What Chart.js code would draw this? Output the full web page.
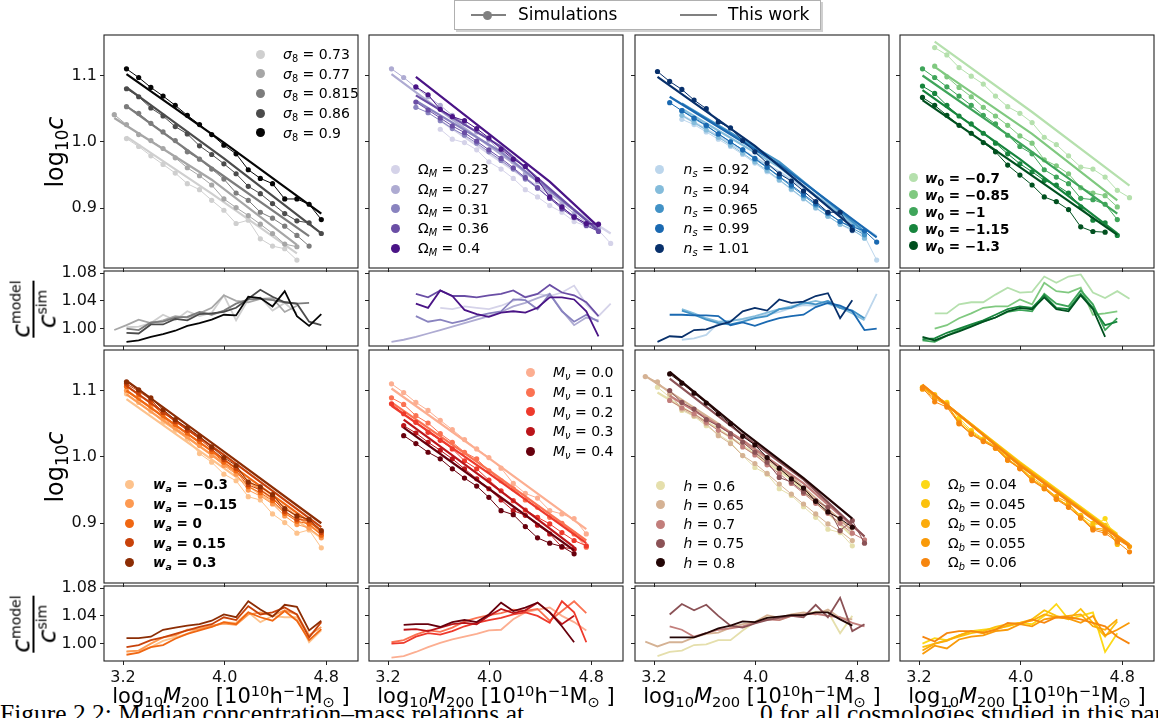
<!DOCTYPE html>
<html><head><meta charset="utf-8">
<script src="https://cdn.jsdelivr.net/npm/chart.js@4.4.1/dist/chart.umd.min.js"></script>
<style>
html,body{margin:0;padding:0;background:#fff;}
body{width:1158px;height:718px;position:relative;overflow:hidden;font-family:'DejaVu Sans',sans-serif;color:#000;}
canvas{position:absolute;}
.sb{font-size:70%;vertical-align:-0.28em;line-height:0;}
.sp{font-size:70%;vertical-align:0.5em;line-height:0;}
.legdot{position:absolute;width:9px;height:9px;border-radius:50%;margin-left:-4.5px;margin-top:-4.5px;z-index:5;}
.legtxt{position:absolute;font-size:14px;line-height:16px;margin-top:-8px;white-space:nowrap;z-index:5;}
.xl{position:absolute;font-size:21px;line-height:24px;white-space:nowrap;transform:translateX(-50%);z-index:5;}
.yl{position:absolute;font-size:24px;line-height:28px;white-space:nowrap;transform:translate(-50%,-50%) rotate(-90deg);z-index:5;}
.frac{position:absolute;transform:translate(-50%,-50%) rotate(-90deg);text-align:center;font-size:25px;line-height:19px;z-index:5;}
.frac .bar{height:2px;background:#000;margin:2px 0 3px 0;}
.frac .s2{font-size:14px;vertical-align:9px;line-height:0;}
.cap{position:absolute;font-family:'Liberation Serif',serif;font-size:25.5px;line-height:25.5px;white-space:nowrap;}
</style></head><body>
<script>
// ---------------- data ----------------
const massBins = [3.131, 3.227, 3.323, 3.419, 3.515, 3.611, 3.706, 3.802, 3.898, 3.994, 4.090, 4.186, 4.281, 4.377, 4.473, 4.569, 4.665, 4.761, 4.857, 4.953];
const xTicks = [3.2, 4.0, 4.8];
const mainYTicks = [0.9, 1.0, 1.1];
const ratioYTicks = [1.00, 1.04, 1.08];
const xRange = [3.05, 5.05];
const mainYRange = [0.81, 1.161];
const ratioYRange = [0.975, 1.083];

// sigma_8
const s8Labels = ['0.73', '0.77', '0.815', '0.86', '0.9'];
const s8Colors = ['#cfcfcf', '#a6a6a6', '#7c7c7c', '#4b4b4b', '#050505'];
const s8Start = [1, 0, 1, 1, 1];
const s8Sim = [
  [1.005, 0.993, 0.979, 0.966, 0.953, 0.937, 0.928, 0.912, 0.897, 0.877, 0.882, 0.854, 0.843, 0.839, 0.822],
  [1.041, 1.026, 1.011, 1.002, 0.990, 0.976, 0.961, 0.949, 0.935, 0.914, 0.901, 0.889, 0.876, 0.862, 0.846, 0.842],
  [1.053, 1.043, 1.028, 1.015, 1.002, 0.985, 0.974, 0.959, 0.944, 0.923, 0.912, 0.894, 0.885, 0.873, 0.859, 0.843],
  [1.080, 1.068, 1.051, 1.039, 1.023, 1.012, 0.994, 0.981, 0.967, 0.952, 0.933, 0.922, 0.907, 0.892, 0.881, 0.878, 0.862],
  [1.110, 1.097, 1.082, 1.069, 1.055, 1.040, 1.026, 1.011, 0.995, 0.982, 0.958, 0.945, 0.937, 0.914, 0.914, 0.906, 0.883]];
const s8ModelIdx = [[1, 8, 15], [0, 8, 15], [1, 8, 16], [1, 9, 17], [1, 9, 17]];
const s8ModelVal = [[1.008, 0.922, 0.832], [1.036, 0.943, 0.845], [1.054, 0.961, 0.858], [1.082, 0.975, 0.862], [1.102, 0.999, 0.892]];
const s8Ratio = [
  [1.002, 1.003, 1.008, 1.020, 1.012, 1.025, 1.018, 1.023, 1.048, 1.012, 1.042, 1.045, 1.026, 1.037, 1.022],
  [0.998, 1.005, 1.013, 1.008, 1.012, 1.018, 1.016, 1.022, 1.030, 1.048, 1.040, 1.038, 1.043, 1.044, 1.024, 1.033],
  [1.000, 0.998, 1.009, 1.010, 1.016, 1.017, 1.024, 1.020, 1.026, 1.036, 1.042, 1.043, 1.041, 1.038, 1.036, 1.037],
  [0.994, 0.993, 1.006, 1.006, 1.014, 1.012, 1.021, 1.022, 1.024, 1.030, 1.043, 1.056, 1.046, 1.038, 1.036, 1.010, 1.005],
  [0.981, 0.983, 0.988, 0.992, 0.997, 1.004, 1.008, 1.013, 1.020, 1.019, 1.046, 1.044, 1.032, 1.054, 1.018, 1.004, 1.021]];

// Omega_M
const omLabels = ['0.23', '0.27', '0.31', '0.36', '0.4'];
const omColors = ['#d5d3e9', '#aeabd2', '#8983bf', '#6a4ea5', '#4a1486'];
const omStart = [5, 1, 3, 3, 3];
const omSim = [
  [1.019, 1.004, 0.999, 0.988, 0.970, 0.959, 0.945, 0.928, 0.917, 0.904, 0.894, 0.880, 0.873, 0.867, 0.847],
  [1.110, 1.097, 1.082, 1.068, 1.055, 1.040, 1.028, 1.015, 1.003, 0.985, 0.970, 0.952, 0.940, 0.922, 0.907, 0.892, 0.878, 0.869],
  [1.052, 1.044, 1.032, 1.020, 1.010, 0.998, 0.985, 0.972, 0.959, 0.944, 0.930, 0.915, 0.901, 0.888, 0.876, 0.866],
  [1.060, 1.048, 1.036, 1.024, 1.014, 1.001, 0.988, 0.975, 0.961, 0.946, 0.931, 0.915, 0.899, 0.886, 0.874, 0.865],
  [1.083, 1.071, 1.049, 1.038, 1.032, 1.020, 1.006, 0.989, 0.974, 0.963, 0.943, 0.917, 0.902, 0.887, 0.877, 0.876]];
const omModelIdx = [[5, 12, 19], [1, 6, 12, 18], [3, 10, 18], [3, 10, 18], [3, 9, 14, 18]];
const omModelVal = [[1.032, 0.945, 0.862], [1.102, 1.034, 0.955, 0.868], [1.062, 0.985, 0.868], [1.070, 0.993, 0.866], [1.098, 1.012, 0.940, 0.872]];
const omRatio = [
  [1.030, 1.028, 1.032, 1.030, 1.028, 1.033, 1.040, 1.046, 1.050, 1.047, 1.052, 1.062, 1.035, 1.018, 1.036],
  [0.981, 0.984, 0.988, 0.993, 0.998, 1.003, 1.008, 1.013, 1.018, 1.024, 1.032, 1.037, 1.044, 1.050, 1.026, 1.005, 1.016, 1.012],
  [1.018, 1.010, 1.013, 1.008, 1.012, 1.018, 1.022, 1.025, 1.042, 1.041, 1.028, 1.050, 1.025, 1.010, 1.020, 1.010],
  [1.050, 1.045, 1.055, 1.047, 1.047, 1.045, 1.048, 1.050, 1.055, 1.045, 1.050, 1.063, 1.052, 1.048, 1.038, 1.018],
  [1.036, 1.030, 1.055, 1.047, 1.027, 1.021, 1.017, 1.023, 1.025, 1.023, 1.030, 1.045, 1.045, 1.042, 1.025, 0.989]];

// n_s
const nsLabels = ['0.92', '0.94', '0.965', '0.99', '1.01'];
const nsColors = ['#bcd6ec', '#84bcdb', '#4292c6', '#1a69b1', '#08306b'];
const nsStart = [3, 3, 3, 2, 1];
const nsSim = [
  [1.034, 1.026, 1.015, 1.004, 0.993, 0.981, 0.968, 0.955, 0.942, 0.928, 0.914, 0.900, 0.888, 0.876, 0.866, 0.858, 0.822],
  [1.040, 1.029, 1.018, 1.007, 0.995, 0.983, 0.970, 0.957, 0.943, 0.929, 0.915, 0.901, 0.888, 0.876, 0.868, 0.855],
  [1.047, 1.035, 1.024, 1.012, 1.000, 0.988, 0.974, 0.961, 0.947, 0.933, 0.919, 0.905, 0.892, 0.880, 0.870, 0.860],
  [1.059, 1.047, 1.036, 1.025, 1.012, 1.000, 0.988, 0.975, 0.962, 0.948, 0.935, 0.921, 0.907, 0.893, 0.880, 0.872, 0.866, 0.849],
  [1.106, 1.091, 1.079, 1.063, 1.050, 1.030, 1.021, 1.002, 0.985, 0.968, 0.952, 0.941, 0.926, 0.910, 0.894, 0.894, 0.867]];
const nsModelIdx = [[3, 11, 19], [3, 11, 18], [3, 11, 18], [2, 11, 19], [1, 9, 17]];
const nsModelVal = [[1.040, 0.955, 0.858], [1.050, 0.962, 0.862], [1.058, 0.970, 0.865], [1.068, 0.966, 0.856], [1.098, 0.994, 0.872]];
const nsRatio = [
  [0.984, 0.986, 0.991, 1.008, 1.012, 1.013, 1.016, 1.020, 1.024, 1.030, 1.034, 1.033, 1.040, 1.030, 1.026, 1.014, 1.050],
  [1.028, 1.022, 1.015, 1.010, 1.011, 1.014, 1.018, 1.023, 1.028, 1.032, 1.036, 1.040, 1.036, 1.030, 1.022, 1.012],
  [1.026, 1.020, 1.013, 1.008, 1.006, 1.010, 1.015, 1.018, 1.028, 1.030, 1.038, 1.035, 1.040, 1.030, 1.026, 1.015],
  [1.020, 1.020, 1.019, 1.019, 1.018, 1.005, 1.009, 1.004, 1.010, 1.015, 1.018, 1.020, 1.031, 1.037, 1.033, 1.025, 0.998, 1.000],
  [0.981, 0.989, 0.988, 0.998, 0.999, 1.005, 1.010, 1.025, 1.030, 1.026, 1.042, 1.037, 1.039, 1.047, 1.051, 1.015, 1.041]];

// w_0
const w0Labels = ['\u22120.7', '\u22120.85', '\u22121', '\u22121.15', '\u22121.3'];
const w0Colors = ['#b5e0ad', '#80c980', '#3fa55a', '#17853d', '#00501f'];
const w0Start = [2, 2, 1, 1, 1];
const w0Sim = [
  [1.142, 1.131, 1.112, 1.099, 1.087, 1.069, 1.053, 1.043, 1.029, 1.007, 0.996, 0.979, 0.962, 0.959, 0.947, 0.927, 0.916],
  [1.114, 1.098, 1.082, 1.068, 1.052, 1.039, 1.025, 1.009, 0.998, 0.973, 0.964, 0.952, 0.931, 0.923, 0.919, 0.902],
  [1.110, 1.097, 1.083, 1.069, 1.055, 1.040, 1.027, 1.010, 0.993, 0.982, 0.958, 0.947, 0.937, 0.915, 0.913, 0.906, 0.883],
  [1.084, 1.073, 1.055, 1.039, 1.027, 1.013, 0.998, 0.982, 0.967, 0.955, 0.942, 0.935, 0.923, 0.902, 0.882, 0.878, 0.859],
  [1.067, 1.055, 1.040, 1.025, 1.013, 0.999, 0.985, 0.965, 0.950, 0.935, 0.917, 0.910, 0.898, 0.872, 0.865, 0.864]];
const w0ModelIdx = [[2, 10, 18], [2, 10, 17], [1, 9, 17], [1, 9, 17], [1, 9, 17]];
const w0ModelVal = [[1.151, 1.045, 0.934], [1.113, 1.012, 0.912], [1.100, 0.998, 0.892], [1.078, 0.974, 0.862], [1.063, 0.962, 0.860]];
const w0Ratio = [
  [1.022, 1.022, 1.035, 1.038, 1.038, 1.049, 1.059, 1.052, 1.053, 1.075, 1.066, 1.075, 1.078, 1.052, 1.044, 1.054, 1.043],
  [1.000, 1.005, 1.015, 1.022, 1.030, 1.032, 1.032, 1.042, 1.035, 1.066, 1.054, 1.052, 1.059, 1.020, 1.022, 1.025],
  [0.983, 0.981, 0.990, 0.998, 1.004, 1.010, 1.016, 1.024, 1.027, 1.025, 1.050, 1.036, 1.032, 1.055, 1.035, 0.998, 1.015],
  [0.985, 0.986, 0.994, 1.000, 1.006, 1.012, 1.020, 1.028, 1.032, 1.030, 1.048, 1.030, 1.028, 1.050, 1.030, 1.005, 1.010],
  [0.988, 0.983, 0.990, 0.996, 1.003, 1.010, 1.016, 1.025, 1.030, 1.028, 1.045, 1.028, 1.025, 1.048, 1.028, 0.988]];

// w_a
const waLabels = ['\u22120.3', '\u22120.15', '0', '0.15', '0.3'];
const waColors = ['#fdc28c', '#fd9a52', '#f06712', '#c8420a', '#8c2d04'];
const waStart = [1, 1, 1, 1, 1];
const waSim = [
  [1.095, 1.082, 1.069, 1.052, 1.040, 1.027, 1.005, 0.992, 0.974, 0.964, 0.940, 0.935, 0.914, 0.901, 0.885, 0.890, 0.863],
  [1.100, 1.088, 1.075, 1.058, 1.044, 1.031, 1.017, 1.002, 0.987, 0.974, 0.950, 0.941, 0.929, 0.911, 0.898, 0.893, 0.878],
  [1.106, 1.094, 1.081, 1.063, 1.049, 1.036, 1.023, 1.008, 0.992, 0.979, 0.955, 0.946, 0.934, 0.915, 0.903, 0.899, 0.882],
  [1.110, 1.099, 1.086, 1.067, 1.053, 1.040, 1.027, 1.012, 0.996, 0.983, 0.958, 0.950, 0.938, 0.918, 0.906, 0.904, 0.886],
  [1.113, 1.101, 1.089, 1.071, 1.056, 1.044, 1.031, 1.015, 0.999, 0.987, 0.962, 0.955, 0.943, 0.922, 0.911, 0.906, 0.889]];
const waModelIdx = [[1, 9, 17], [1, 9, 17], [1, 9, 17], [1, 9, 17], [1, 9, 17]];
const waModelVal = [[1.087, 0.983, 0.878], [1.094, 0.990, 0.884], [1.100, 0.996, 0.889], [1.107, 1.003, 0.894], [1.115, 1.008, 0.900]];
const waRatio = [
  [0.988, 0.990, 0.995, 1.004, 1.009, 1.014, 1.023, 1.024, 1.031, 1.030, 1.045, 1.031, 1.040, 1.038, 1.038, 1.002, 1.019],
  [0.989, 0.990, 1.000, 1.009, 1.012, 1.020, 1.021, 1.026, 1.029, 1.027, 1.042, 1.045, 1.040, 1.048, 1.042, 1.012, 1.024],
  [0.984, 0.987, 0.995, 0.998, 1.007, 1.014, 1.019, 1.024, 1.031, 1.028, 1.045, 1.038, 1.033, 1.047, 1.033, 1.005, 1.021],
  [0.995, 0.998, 1.005, 1.009, 1.014, 1.019, 1.024, 1.028, 1.038, 1.034, 1.054, 1.042, 1.045, 1.052, 1.042, 1.009, 1.031],
  [1.008, 1.008, 1.010, 1.020, 1.023, 1.026, 1.028, 1.033, 1.042, 1.038, 1.061, 1.049, 1.039, 1.056, 1.053, 1.019, 1.033]];

// M_nu
const mnLabels = ['0.0', '0.1', '0.2', '0.3', '0.4'];
const mnColors = ['#fcae91', '#fb7252', '#ee3a2c', '#bb151a', '#67000d'];
const mnStart = [1, 1, 1, 2, 2];
const mnSim = [
  [1.110, 1.097, 1.082, 1.070, 1.055, 1.041, 1.026, 1.012, 0.999, 0.983, 0.960, 0.945, 0.938, 0.919, 0.914, 0.907, 0.884],
  [1.089, 1.079, 1.062, 1.051, 1.035, 1.022, 1.007, 0.997, 0.979, 0.964, 0.952, 0.935, 0.924, 0.909, 0.900, 0.884, 0.864],
  [1.080, 1.065, 1.052, 1.037, 1.025, 1.012, 0.994, 0.982, 0.965, 0.949, 0.934, 0.920, 0.909, 0.899, 0.886, 0.874, 0.866],
  [1.047, 1.036, 1.022, 1.010, 0.997, 0.982, 0.967, 0.952, 0.935, 0.919, 0.912, 0.897, 0.884, 0.864, 0.861],
  [1.032, 1.020, 1.007, 0.997, 0.982, 0.968, 0.956, 0.939, 0.919, 0.913, 0.895, 0.878, 0.870, 0.865, 0.854]];
const mnModelIdx = [[1, 9, 17], [1, 9, 17], [1, 9, 17], [2, 9, 16], [2, 9, 16]];
const mnModelVal = [[1.103, 0.998, 0.891], [1.082, 0.980, 0.874], [1.077, 0.975, 0.870], [1.056, 0.962, 0.864], [1.044, 0.952, 0.859]];
const mnRatio = [
  [0.980, 0.982, 0.988, 0.995, 1.001, 1.006, 1.010, 1.014, 1.019, 1.020, 1.035, 1.045, 1.049, 1.052, 1.040, 1.031, 1.019],
  [1.002, 1.005, 1.013, 1.019, 1.017, 1.023, 1.032, 1.037, 1.041, 1.044, 1.049, 1.047, 1.050, 1.033, 1.047, 1.061, 1.044],
  [1.000, 1.001, 1.010, 1.015, 1.013, 1.018, 1.025, 1.030, 1.034, 1.037, 1.042, 1.045, 1.040, 1.030, 1.061, 1.045, 1.002],
  [1.020, 1.021, 1.018, 1.023, 1.028, 1.030, 1.028, 1.040, 1.050, 1.044, 1.048, 1.059, 1.045, 1.028, 1.040],
  [1.027, 1.028, 1.028, 1.024, 1.031, 1.034, 1.031, 1.042, 1.059, 1.047, 1.052, 1.059, 1.045, 1.025, 1.002]];

// h
const hLabels = ['0.6', '0.65', '0.7', '0.75', '0.8'];
const hColors = ['#e5dfac', '#d5b294', '#c27e7b', '#8b5256', '#220505'];
const hStart = [1, 0, 2, 2, 2];
const hSim = [
  [1.105, 1.090, 1.070, 1.061, 1.047, 1.034, 1.022, 1.002, 0.984, 0.974, 0.952, 0.942, 0.925, 0.909, 0.891, 0.886, 0.866],
  [1.121, 1.113, 1.095, 1.072, 1.062, 1.050, 1.032, 1.020, 1.002, 0.990, 0.975, 0.959, 0.944, 0.929, 0.914, 0.899, 0.888, 0.874],
  [1.085, 1.074, 1.065, 1.052, 1.040, 1.030, 1.015, 1.003, 0.988, 0.975, 0.960, 0.945, 0.930, 0.915, 0.900, 0.885, 0.875],
  [1.100, 1.082, 1.072, 1.056, 1.047, 1.035, 1.022, 1.007, 0.992, 0.969, 0.962, 0.947, 0.934, 0.924, 0.889, 0.904, 0.870],
  [1.125, 1.111, 1.096, 1.081, 1.065, 1.050, 1.031, 1.018, 0.999, 0.983, 0.967, 0.953, 0.933, 0.917, 0.907, 0.894]];
const hModelIdx = [[1, 6, 12, 17], [0, 6, 12, 17], [2, 8, 13, 18], [2, 8, 13, 18], [2, 8, 13, 17]];
const hModelVal = [[1.097, 1.042, 0.966, 0.881], [1.122, 1.050, 0.970, 0.889], [1.092, 1.025, 0.960, 0.880], [1.118, 1.033, 0.966, 0.880], [1.128, 1.038, 0.968, 0.907]];
const hRatio = [
  [0.982, 0.988, 0.990, 0.998, 0.999, 1.005, 1.005, 1.019, 1.031, 1.038, 1.034, 1.040, 1.042, 1.046, 1.046, 1.015, 1.040],
  [1.003, 0.996, 1.002, 1.002, 1.009, 1.014, 1.016, 1.023, 1.028, 1.031, 1.041, 1.037, 1.042, 1.045, 1.042, 1.049, 1.037, 1.035],
  [1.025, 1.020, 1.010, 1.015, 1.020, 1.022, 1.025, 1.030, 1.035, 1.034, 1.040, 1.042, 1.043, 1.040, 1.038, 1.030, 1.025],
  [1.042, 1.057, 1.048, 1.056, 1.040, 1.026, 1.023, 1.029, 1.034, 1.037, 1.040, 1.038, 1.056, 1.038, 1.066, 1.018, 1.028],
  [1.009, 1.009, 1.009, 1.015, 1.022, 1.026, 1.032, 1.031, 1.037, 1.039, 1.041, 1.041, 1.045, 1.045, 1.035, 1.026]];

// Omega_b
const obLabels = ['0.04', '0.045', '0.05', '0.055', '0.06'];
const obColors = ['#fcd817', '#fbc10d', '#fbab0b', '#f99a09', '#f6860f'];
const obStart = [1, 1, 1, 1, 1];
const obSim = [
  [1.105, 1.092, 1.082, 1.058, 1.040, 1.027, 1.015, 1.000, 0.986, 0.967, 0.952, 0.940, 0.925, 0.910, 0.895, 0.907, 0.873],
  [1.103, 1.094, 1.078, 1.054, 1.038, 1.026, 1.013, 0.995, 0.983, 0.969, 0.956, 0.936, 0.928, 0.912, 0.900, 0.897, 0.868],
  [1.104, 1.090, 1.080, 1.050, 1.036, 1.025, 1.016, 0.997, 0.984, 0.966, 0.955, 0.940, 0.931, 0.908, 0.893, 0.891, 0.870],
  [1.102, 1.088, 1.077, 1.052, 1.035, 1.024, 1.014, 0.996, 0.983, 0.965, 0.953, 0.938, 0.925, 0.909, 0.892, 0.888, 0.875, 0.865],
  [1.104, 1.083, 1.075, 1.050, 1.034, 1.023, 1.013, 0.995, 0.982, 0.964, 0.952, 0.936, 0.924, 0.908, 0.890, 0.885, 0.872, 0.857]];
const obModelIdx = [[1, 9, 17], [1, 9, 17], [1, 9, 17], [1, 9, 18], [1, 9, 18]];
const obModelVal = [[1.107, 0.992, 0.884], [1.107, 0.991, 0.882], [1.108, 0.990, 0.880], [1.108, 0.988, 0.868], [1.109, 0.987, 0.865]];
const obRatio = [
  [1.000, 1.008, 1.005, 1.012, 1.018, 1.020, 1.022, 1.025, 1.030, 1.028, 1.040, 1.057, 1.035, 1.040, 1.045, 0.988, 1.015],
  [0.995, 1.000, 1.005, 1.010, 1.015, 1.018, 1.024, 1.028, 1.030, 1.035, 1.048, 1.040, 1.035, 1.050, 1.030, 1.010, 1.032],
  [0.990, 1.000, 1.004, 1.012, 1.018, 1.015, 1.020, 1.026, 1.030, 1.033, 1.042, 1.038, 1.040, 1.042, 1.025, 1.020, 1.035],
  [0.985, 0.997, 0.993, 1.006, 1.010, 1.012, 1.018, 1.020, 1.028, 1.025, 1.035, 1.038, 1.036, 1.030, 1.040, 1.012, 1.020, 1.030],
  [1.010, 1.003, 1.015, 1.018, 1.018, 1.016, 1.020, 1.030, 1.028, 1.035, 1.030, 1.038, 1.038, 1.035, 1.030, 1.025, 1.010, 1.000]];

// ---------------- layout / style ----------------
const colLeft = [104, 369, 635, 900];
const PW = 254;
const mainTop = [35, 350], MH = 233;
const ratioTop = [271, 586], RH = 75;

const panels = [
  {col: 0, row: 0, name: '<i>\u03c3</i><span class="sb">8</span>', labels: s8Labels, colors: s8Colors, start: s8Start, sim: s8Sim, mIdx: s8ModelIdx, mVal: s8ModelVal, ratio: s8Ratio, leg: {mx: 156, tx: 179, y0: 19, dy: 19.7, bold: false}},
  {col: 1, row: 0, name: '\u03a9<span class="sb"><i>M</i></span>', labels: omLabels, colors: omColors, start: omStart, sim: omSim, mIdx: omModelIdx, mVal: omModelVal, ratio: omRatio, leg: {mx: 26, tx: 49, y0: 134.3, dy: 19.7, bold: false}},
  {col: 2, row: 0, name: '<i>n</i><span class="sb"><i>s</i></span>', labels: nsLabels, colors: nsColors, start: nsStart, sim: nsSim, mIdx: nsModelIdx, mVal: nsModelVal, ratio: nsRatio, leg: {mx: 24.5, tx: 48.5, y0: 134.3, dy: 19.7, bold: false}},
  {col: 3, row: 0, name: '<i>w</i><span class="sb">0</span>', labels: w0Labels, colors: w0Colors, start: w0Start, sim: w0Sim, mIdx: w0ModelIdx, mVal: w0ModelVal, ratio: w0Ratio, leg: {mx: 13, tx: 25, y0: 142.7, dy: 17, bold: true}},
  {col: 0, row: 1, name: '<i>w</i><span class="sb"><i>a</i></span>', labels: waLabels, colors: waColors, start: waStart, sim: waSim, mIdx: waModelIdx, mVal: waModelVal, ratio: waRatio, leg: {mx: 25, tx: 49, y0: 134.3, dy: 19.5, bold: true}},
  {col: 1, row: 1, name: '<i>M</i><span class="sb"><i>\u03bd</i></span>', labels: mnLabels, colors: mnColors, start: mnStart, sim: mnSim, mIdx: mnModelIdx, mVal: mnModelVal, ratio: mnRatio, leg: {mx: 161, tx: 184, y0: 22.3, dy: 19.7, bold: false}},
  {col: 2, row: 1, name: '<i>h</i>', labels: hLabels, colors: hColors, start: hStart, sim: hSim, mIdx: hModelIdx, mVal: hModelVal, ratio: hRatio, leg: {mx: 25, tx: 48.5, y0: 135.7, dy: 19.25, bold: false}},
  {col: 3, row: 1, name: '\u03a9<span class="sb"><i>b</i></span>', labels: obLabels, colors: obColors, start: obStart, sim: obSim, mIdx: obModelIdx, mVal: obModelVal, ratio: obRatio, leg: {mx: 25.5, tx: 48, y0: 134, dy: 19.6, bold: false}}
];

const boxPlugin = {
  id: 'box',
  afterDraw(chart) {
    const {ctx, chartArea: a} = chart;
    ctx.save();
    ctx.strokeStyle = '#222';
    ctx.lineWidth = 1.1;
    ctx.strokeRect(a.left, a.top, a.right - a.left, a.bottom - a.top);
    ctx.restore();
  }
};

function makeChart(o) {
  const padT = 14, padR = 14;
  const W = o.w + o.padL + padR, H = o.h + padT + o.padB;
  const cv = document.createElement('canvas');
  cv.width = W; cv.height = H;
  cv.style.left = (o.left - o.padL) + 'px';
  cv.style.top = (o.top - padT) + 'px';
  cv.style.width = W + 'px'; cv.style.height = H + 'px';
  document.body.appendChild(cv);
  const tickFont = {family: 'DejaVu Sans', size: 16};
  new Chart(cv, {
    type: 'line',
    data: {datasets: o.datasets},
    options: {
      responsive: false, animation: false, devicePixelRatio: 1,
      layout: {padding: {top: padT, right: padR, left: 0, bottom: 0}},
      plugins: {legend: {display: false}, tooltip: {enabled: false}},
      elements: {line: {tension: 0}},
      events: [],
      scales: {
        x: {
          type: 'linear', min: xRange[0], max: xRange[1],
          afterBuildTicks: s => { s.ticks = xTicks.map(v => ({value: v})); },
          afterFit: s => { s.height = o.padB; s.paddingLeft = 0; s.paddingRight = 0; },
          grid: {drawOnChartArea: false, drawTicks: true, tickLength: 4, tickColor: '#222', tickWidth: 1},
          border: {display: false},
          ticks: {autoSkip: false, maxRotation: 0, minRotation: 0, padding: 3, color: '#111', font: tickFont,
                  callback: v => o.showX ? Number(v).toFixed(1) : ''}
        },
        y: {
          type: 'linear', min: o.yRange[0], max: o.yRange[1],
          afterBuildTicks: s => { s.ticks = o.yTicks.map(v => ({value: v})); },
          afterFit: s => { s.width = o.padL; s.paddingTop = 0; s.paddingBottom = 0; },
          grid: {drawOnChartArea: false, drawTicks: true, tickLength: 4, tickColor: '#222', tickWidth: 1},
          border: {display: false},
          ticks: {autoSkip: false, padding: 3, color: '#111', font: tickFont,
                  callback: v => o.showY ? Number(v).toFixed(o.yDec) : ''}
        }
      }
    },
    plugins: [boxPlugin]
  });
}

function pts(start, vals) { return vals.map((v, i) => ({x: massBins[start + i], y: v})); }
function mpts(idx, vals) { return idx.map((k, i) => ({x: massBins[k], y: vals[i]})); }

panels.forEach(p => {
  const n = p.labels.length;
  const mainSets = [], ratioSets = [];
  for (let i = 0; i < n; i++) {
    const c = p.colors[i];
    mainSets.push({data: pts(p.start[i], p.sim[i]), borderColor: c, backgroundColor: c, borderWidth: 1,
      pointRadius: 2.6, pointHoverRadius: 0, pointBorderWidth: 0, pointBackgroundColor: c, order: 100 - 2 * i});
    mainSets.push({data: mpts(p.mIdx[i], p.mVal[i]), borderColor: c, borderWidth: 2.2, pointRadius: 0,
      pointHoverRadius: 0, order: 99 - 2 * i});
    ratioSets.push({data: pts(p.start[i], p.ratio[i]), borderColor: c, borderWidth: 1.8, pointRadius: 0,
      pointHoverRadius: 0, order: 100 - i});
  }
  const left = colLeft[p.col];
  const first = p.col === 0;
  makeChart({left: left, top: mainTop[p.row], w: PW, h: MH, padL: first ? 62 : 10, padB: 10,
    showX: false, showY: first, yRange: mainYRange, yTicks: mainYTicks, yDec: 1, datasets: mainSets});
  makeChart({left: left, top: ratioTop[p.row], w: PW, h: RH, padL: first ? 62 : 10, padB: p.row === 1 ? 32 : 10,
    showX: p.row === 1, showY: first, yRange: ratioYRange, yTicks: ratioYTicks, yDec: 2, datasets: ratioSets});

  // in-panel legend
  for (let i = 0; i < n; i++) {
    const cy = mainTop[p.row] + p.leg.y0 + i * p.leg.dy;
    const d = document.createElement('div');
    d.className = 'legdot';
    d.style.left = (left + p.leg.mx) + 'px'; d.style.top = cy + 'px';
    d.style.background = p.colors[i];
    document.body.appendChild(d);
    const t = document.createElement('div');
    t.className = 'legtxt';
    t.style.left = (left + p.leg.tx) + 'px'; t.style.top = cy + 'px';
    if (p.leg.bold) { t.style.fontWeight = 'bold'; t.style.fontSize = '13.5px'; }
    t.innerHTML = p.name + ' = ' + p.labels[i];
    document.body.appendChild(t);
  }
});

// axis titles
function addHTML(cls, style, html) {
  const d = document.createElement('div');
  d.className = cls; d.setAttribute('style', style); d.innerHTML = html;
  document.body.appendChild(d);
  return d;
}
mainTop.forEach(t => addHTML('yl', `left:55px;top:${t + MH / 2}px`, 'log<span class="sb">10</span><i>c</i>'));
ratioTop.forEach(t => addHTML('frac', `left:34px;top:${t + RH / 2}px`,
  '<div><i>c</i><span class="s2">model</span></div><div class="bar"></div><div><i>c</i><span class="s2">sim</span></div>'));
colLeft.forEach(l => addHTML('xl', `left:${l + PW / 2}px;top:684px`,
  'log<span class="sb">10</span><i>M</i><span class="sb">200</span> [10<span class="sp">10</span>h<span class="sp">\u22121</span>M<span class="sb">\u2299</span> ]'));

// top legend
addHTML('', 'position:absolute;left:454px;top:0px;width:365px;height:28px;border:1px solid #b0b0b0;background:#fff;box-shadow:2px 2px 0 #d0d0d0;z-index:6;',
  '<div style="position:absolute;left:16px;top:13px;width:35px;height:2px;background:#808080"></div>' +
  '<div style="position:absolute;left:28px;top:9.5px;width:9px;height:9px;border-radius:50%;background:#808080"></div>' +
  '<div style="position:absolute;left:63px;top:3px;font-size:17px;line-height:20px">Simulations</div>' +
  '<div style="position:absolute;left:225px;top:13px;width:37px;height:2px;background:#808080"></div>' +
  '<div style="position:absolute;left:273px;top:3px;font-size:17px;line-height:20px">This work</div>');

// caption (cut at the bottom edge)
addHTML('cap', 'left:0px;top:701px', 'Figure 2.2: Median concentration\u2013mass relations at');
addHTML('cap', 'left:760px;top:701px', '0 for all cosmologies studied in this paper');
</script>
</body></html>
